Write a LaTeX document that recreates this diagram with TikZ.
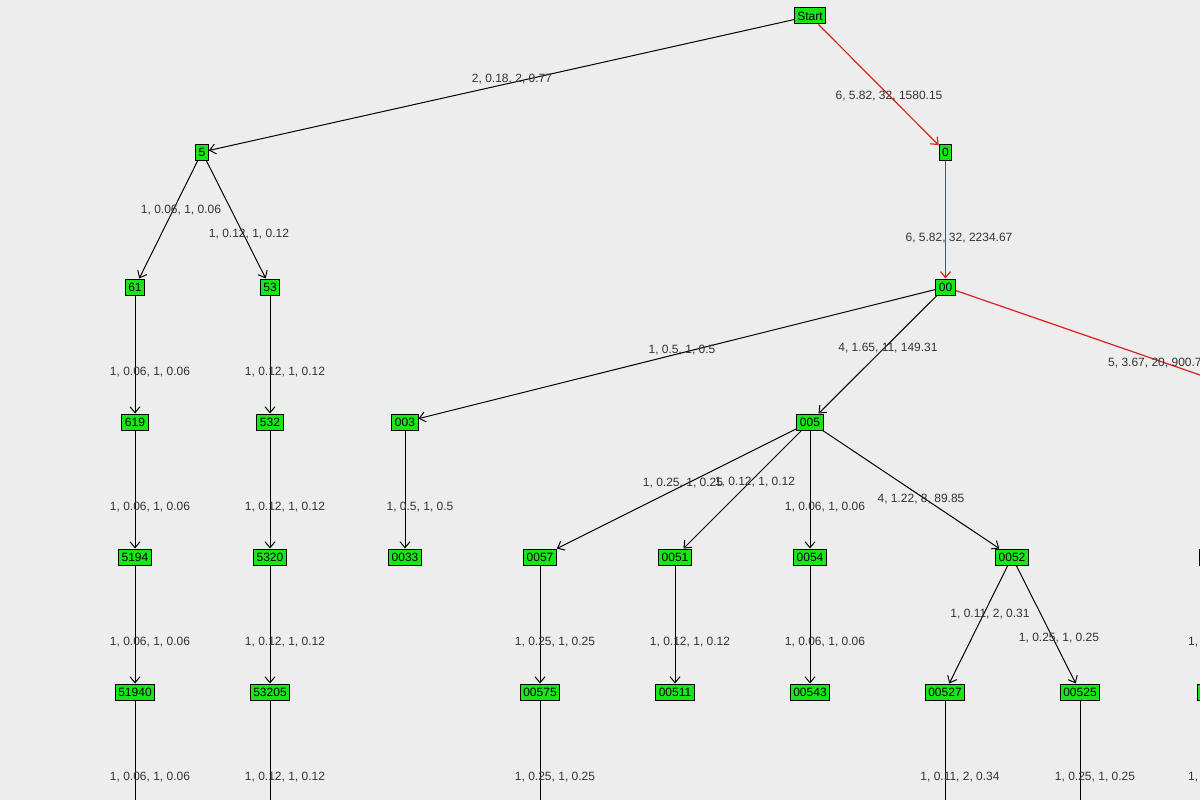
\documentclass[tikz,border=0pt]{standalone}
\usepackage{fontspec}
\setmainfont{Liberation Sans}
\usetikzlibrary{arrows.meta}

\definecolor{vgreen}{RGB}{25,230,25}
\definecolor{hotred}{RGB}{225,30,30}
\tikzset{
  vert/.style={draw=black, fill=vgreen, line width=1pt, inner xsep=3pt, inner ysep=1pt,
               minimum height=16pt, font=\fontsize{12}{13}\selectfont},
  edge/.style={draw=black, line width=1pt, -{Straight Barb[length=6pt,width=10pt]}},
  hot/.style={edge, draw=hotred, line width=1.2pt},
  lbl/.style={font=\fontsize{12}{13}\selectfont, text=black!80, inner sep=0pt}
}

\begin{document}
\begin{tikzpicture}[x=1pt, y=-1pt]
\fill[black!7] (0,0) rectangle (1200,800);
\useasboundingbox (0,0) rectangle (1200,800);
\clip (0,0) rectangle (1200,800);

% vertices
\node[vert] (s)     at (810,16)  {Start};
\node[vert] (n5)    at (202,152) {5};
\node[vert] (n0)    at (945.5,152) {0};
\node[vert] (n61)   at (135,287) {61};
\node[vert] (n53)   at (270,287) {53};
\node[vert] (n00)   at (945.5,287) {00};
\node[vert] (n619)  at (135,422) {619};
\node[vert] (n532)  at (270,422) {532};
\node[vert] (n003)  at (405,422) {003};
\node[vert] (n005)  at (810,422) {005};
\node[vert, minimum width=30pt] (n00x) at (1336,422) {};
\node[vert] (n5194) at (135,557) {5194};
\node[vert] (n5320) at (270,557) {5320};
\node[vert] (n0033) at (405,557) {0033};
\node[vert] (n0057) at (540,557) {0057};
\node[vert] (n0051) at (675,557) {0051};
\node[vert] (n0054) at (810,557) {0054};
\node[vert] (n0052) at (1012,557) {0052};
\node[vert, minimum width=34pt] (nr1) at (1216,557) {};
\node[vert] (n51940) at (135,692) {51940};
\node[vert] (n53205) at (270,692) {53205};
\node[vert] (n00575) at (540,692) {00575};
\node[vert] (n00511) at (675,692) {00511};
\node[vert] (n00543) at (810,692) {00543};
\node[vert] (n00527) at (945,692) {00527};
\node[vert] (n00525) at (1080,692) {00525};
\node[vert, minimum width=40pt] (nr2) at (1217,692) {};
\coordinate (b1) at (135,830);
\coordinate (b2) at (270,830);
\coordinate (b3) at (540,830);
\coordinate (b4) at (945,830);
\coordinate (b5) at (1080,830);
\coordinate (b6) at (1216,830);

% connectors
\draw[edge] (s) -- (n5);
\draw[hot]  (s) -- (n0);
\draw[hot]  (n0) -- (n00);
\draw[hot]  (n00) -- (n00x);
\draw[edge] (n5) -- (n61);
\draw[edge] (n5) -- (n53);
\draw[edge] (n61) -- (n619);
\draw[edge] (n53) -- (n532);
\draw[edge] (n00) -- (n003);
\draw[edge] (n00) -- (n005);
\draw[edge] (n619) -- (n5194);
\draw[edge] (n532) -- (n5320);
\draw[edge] (n003) -- (n0033);
\draw[edge] (n005) -- (n0057);
\draw[edge] (n005) -- (n0051);
\draw[edge] (n005) -- (n0054);
\draw[edge] (n005) -- (n0052);
\draw[edge] (n00x) -- (nr1);
\draw[edge] (n5194) -- (n51940);
\draw[edge] (n5320) -- (n53205);
\draw[edge] (n0057) -- (n00575);
\draw[edge] (n0051) -- (n00511);
\draw[edge] (n0054) -- (n00543);
\draw[edge] (n0052) -- (n00527);
\draw[edge] (n0052) -- (n00525);
\draw[edge] (nr1) -- (nr2);
\foreach \a/\b in {n51940/b1, n53205/b2, n00575/b3, n00527/b4, n00525/b5, nr2/b6}
  \draw[line width=1pt] (\a) -- (\b);

% labels
\node[lbl] (l1)  at (512,79)  {2, 0.18, 2, 0.77};
\node[lbl] (l2)  at (889,96)  {6, 5.82, 32, 1580.15};
\node[lbl] (l3)  at (959,238) {6, 5.82, 32, 2234.67};
\node[lbl] (l4)  at (181,210) {1, 0.06, 1, 0.06};
\node[lbl] (l5)  at (249,234) {1, 0.12, 1, 0.12};
\node[lbl] (l6)  at (150,372) {1, 0.06, 1, 0.06};
\node[lbl] (l7)  at (285,372) {1, 0.12, 1, 0.12};
\node[lbl] (l8)  at (682,350) {1, 0.5, 1, 0.5};
\node[lbl] (l9)  at (888,348) {4, 1.65, 11, 149.31};
\node[lbl, anchor=west] (l10) at (1108,363) {5, 3.67, 20, 900.75};
\node[lbl] (l11) at (150,507) {1, 0.06, 1, 0.06};
\node[lbl] (l12) at (285,507) {1, 0.12, 1, 0.12};
\node[lbl] (l13) at (420,507) {1, 0.5, 1, 0.5};
\node[lbl] (l14) at (683,483) {1, 0.25, 1, 0.25};
\node[lbl] (l15) at (755,482) {1, 0.12, 1, 0.12};
\node[lbl] (l16) at (825,507) {1, 0.06, 1, 0.06};
\node[lbl] (l17) at (921,499) {4, 1.22, 8, 89.85};
\node[lbl] (l18) at (150,642) {1, 0.06, 1, 0.06};
\node[lbl] (l19) at (285,642) {1, 0.12, 1, 0.12};
\node[lbl] (l20) at (555,642) {1, 0.25, 1, 0.25};
\node[lbl] (l21) at (690,642) {1, 0.12, 1, 0.12};
\node[lbl] (l22) at (825,642) {1, 0.06, 1, 0.06};
\node[lbl] (l23) at (990,614) {1, 0.11, 2, 0.31};
\node[lbl] (l24) at (1059,638) {1, 0.25, 1, 0.25};
\node[lbl, anchor=west] (l25) at (1188,642) {1, 0.25, 1, 0.25};
\node[lbl] (l26) at (150,777) {1, 0.06, 1, 0.06};
\node[lbl] (l27) at (285,777) {1, 0.12, 1, 0.12};
\node[lbl] (l28) at (555,777) {1, 0.25, 1, 0.25};
\node[lbl] (l29) at (960,777) {1, 0.11, 2, 0.34};
\node[lbl] (l30) at (1095,777) {1, 0.25, 1, 0.25};
\node[lbl, anchor=west] (l31) at (1188,777) {1, 0.25, 1, 0.25};
\end{tikzpicture}
\end{document}
